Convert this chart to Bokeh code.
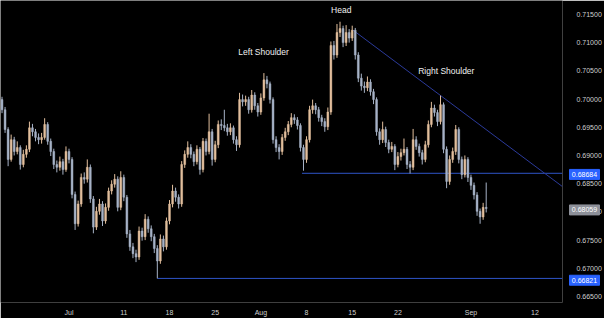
import numpy as np
from bokeh.plotting import figure
from bokeh.models import ColumnDataSource, Range1d, FixedTicker, NumeralTickFormatter, GridBox
from bokeh.core.properties import value
from bokeh.embed import file_html
from bokeh.resources import INLINE

# ---- data (AUDUSD, 8-hour candles) ----
first_open = 0.6999
close = [
    0.6981, 0.6946, 0.6893, 0.6928, 0.6907, 0.6914, 0.6884, 0.6902, 0.6911, 0.6949,
    0.6942, 0.6932, 0.6928, 0.6932, 0.6955, 0.6925, 0.6907, 0.6884, 0.6879, 0.6889,
    0.6875, 0.6907, 0.6893, 0.6831, 0.6779, 0.6814, 0.6861, 0.6858, 0.6879, 0.6823,
    0.6773, 0.6801, 0.6814, 0.6784, 0.6808, 0.6837, 0.6849, 0.6858, 0.6808, 0.6861,
    0.6826, 0.6761, 0.6738, 0.6726, 0.6720, 0.6766, 0.6756, 0.6787, 0.6770, 0.6756,
    0.6735, 0.6713, 0.6752, 0.6738, 0.6784, 0.6814, 0.6837, 0.6826, 0.6814, 0.6884,
    0.6902, 0.6914, 0.6902, 0.6889, 0.6911, 0.6875, 0.6925, 0.6907, 0.6942, 0.6893,
    0.6919, 0.6955, 0.6953, 0.6949, 0.6942, 0.6949, 0.6928, 0.6919, 0.6999, 0.6995,
    0.6999, 0.6981, 0.7007, 0.6988, 0.6977, 0.7002, 0.7034, 0.7027, 0.6999, 0.6928,
    0.6914, 0.6907, 0.6932, 0.6942, 0.6955, 0.6967, 0.6963, 0.6953, 0.6914, 0.6893,
    0.6928, 0.6981, 0.6988, 0.6981, 0.6967, 0.6960, 0.6951, 0.6977, 0.7095, 0.7078,
    0.7118, 0.7125, 0.7100, 0.7118, 0.7108, 0.7122, 0.7078, 0.7037, 0.7023, 0.7020,
    0.7030, 0.7013, 0.6999, 0.6942, 0.6928, 0.6946, 0.6923, 0.6911, 0.6916, 0.6884,
    0.6898, 0.6905, 0.6911, 0.6884, 0.6879, 0.6928, 0.6916, 0.6905, 0.6893, 0.6919,
    0.6955, 0.6984, 0.6976, 0.6960, 0.6990, 0.6911, 0.6854, 0.6893, 0.6907, 0.6946,
    0.6893, 0.6866, 0.6893, 0.6861, 0.6847, 0.6830, 0.6801, 0.6791, 0.6808, 0.68059,
]
high = [
    0.7004, 0.6986, 0.6950, 0.6937, 0.6933, 0.6925, 0.6918, 0.6910, 0.6918, 0.6960,
    0.6956, 0.6947, 0.6939, 0.6940, 0.6966, 0.6959, 0.6930, 0.6912, 0.6891, 0.6898,
    0.6894, 0.6916, 0.6912, 0.6897, 0.6836, 0.6820, 0.6868, 0.6870, 0.6893, 0.6884,
    0.6828, 0.6809, 0.6823, 0.6819, 0.6815, 0.6843, 0.6856, 0.6867, 0.6863, 0.6872,
    0.6866, 0.6830, 0.6768, 0.6745, 0.6733, 0.6774, 0.6772, 0.6796, 0.6792, 0.6776,
    0.6761, 0.6741, 0.6760, 0.6758, 0.6790, 0.6821, 0.6848, 0.6843, 0.6831, 0.6890,
    0.6909, 0.6925, 0.6920, 0.6907, 0.6918, 0.6915, 0.6931, 0.6930, 0.6974, 0.6947,
    0.6926, 0.6962, 0.6964, 0.6981, 0.6956, 0.6957, 0.6953, 0.6934, 0.7011, 0.7008,
    0.7006, 0.7004, 0.7016, 0.7012, 0.6993, 0.7010, 0.7046, 0.7041, 0.7031, 0.7003,
    0.6934, 0.6920, 0.6938, 0.6949, 0.6961, 0.6975, 0.6973, 0.6968, 0.6957, 0.6919,
    0.6934, 0.6988, 0.6999, 0.6993, 0.6986, 0.6972, 0.6966, 0.6985, 0.7102, 0.7103,
    0.7133, 0.7137, 0.7130, 0.7131, 0.7124, 0.7130, 0.7126, 0.7083, 0.7045, 0.7031,
    0.7040, 0.7035, 0.7018, 0.7003, 0.6948, 0.6960, 0.6951, 0.6928, 0.6924, 0.6920,
    0.6906, 0.6912, 0.6930, 0.6915, 0.6890, 0.6947, 0.6934, 0.6921, 0.6910, 0.6926,
    0.6962, 0.6995, 0.6990, 0.6981, 0.7006, 0.6994, 0.6916, 0.6900, 0.6914, 0.6954,
    0.6950, 0.6898, 0.6900, 0.6897, 0.6866, 0.6852, 0.6835, 0.6806, 0.6816, 0.6852,
]
low = [
    0.6975, 0.6940, 0.6881, 0.6889, 0.6900, 0.6902, 0.6875, 0.6879, 0.6896, 0.6906,
    0.6934, 0.6925, 0.6920, 0.6921, 0.6928, 0.6919, 0.6899, 0.6876, 0.6870, 0.6873,
    0.6866, 0.6871, 0.6886, 0.6824, 0.6768, 0.6774, 0.6809, 0.6850, 0.6852, 0.6816,
    0.6762, 0.6768, 0.6795, 0.6775, 0.6779, 0.6802, 0.6831, 0.6843, 0.6801, 0.6803,
    0.6819, 0.6754, 0.6731, 0.6718, 0.6711, 0.6715, 0.6749, 0.6750, 0.6763, 0.6748,
    0.6727, 0.66821, 0.6708, 0.6730, 0.6733, 0.6778, 0.6808, 0.6818, 0.6806, 0.6809,
    0.6878, 0.6896, 0.6895, 0.6881, 0.6884, 0.6866, 0.6870, 0.6900, 0.6902, 0.6882,
    0.6888, 0.6913, 0.6945, 0.6943, 0.6935, 0.6936, 0.6921, 0.6908, 0.6914, 0.6987,
    0.6988, 0.6974, 0.6976, 0.6981, 0.6969, 0.6972, 0.6997, 0.7019, 0.6992, 0.6921,
    0.6906, 0.6893, 0.6901, 0.6926, 0.6936, 0.6950, 0.6956, 0.6946, 0.6907, 0.6873,
    0.6887, 0.6923, 0.6974, 0.6973, 0.6960, 0.6952, 0.6942, 0.6945, 0.6972, 0.7070,
    0.7073, 0.7110, 0.7092, 0.7094, 0.7100, 0.7103, 0.7070, 0.7030, 0.7015, 0.7011,
    0.7014, 0.7006, 0.6991, 0.6935, 0.6919, 0.6922, 0.6915, 0.6904, 0.6906, 0.6874,
    0.6879, 0.6891, 0.6900, 0.6876, 0.6868, 0.6874, 0.6910, 0.6898, 0.6884, 0.6888,
    0.6914, 0.6950, 0.6969, 0.6952, 0.6955, 0.6904, 0.6842, 0.6848, 0.6887, 0.6901,
    0.6886, 0.6858, 0.6861, 0.6853, 0.6839, 0.6822, 0.6793, 0.6779, 0.6786, 0.6799,
]

# time axis: trading days counted from 1 Jul (weekends skipped)
tick_days = [0, 6, 11, 16, 21, 26, 31, 36, 44, 51]
tick_labels = ["Jul", "11", "18", "25", "Aug", "8", "15", "22", "Sep", "12"]
price_ticks = [0.665, 0.670, 0.675, 0.680, 0.685, 0.690, 0.695, 0.700, 0.705, 0.710, 0.715]

neckline = 0.68684
support = 0.66821
last_price = 0.68059
trend_days = [31.1, 54.0]
trend_prices = [0.7122, 0.6845]
neck_days = [25.5, 54.0]
support_days = [9.67, 54.0]

pattern_names = ["Head", "Left Shoulder", "Right Shoulder"]
pattern_days = [29.8, 21.3, 41.3]
pattern_prices = [0.7157, 0.7083, 0.7049]

tag_prices = [neckline, support, last_price]
tag_colors = ["#2962ff", "#2962ff", "#8d9099"]

# ---- build ----
W, H = 604, 318
BOTTOM, RIGHT = 14, 38
n = len(close)
bars_per_day = 3
start_day = -7.5
xs = start_day + (np.arange(n) + 0.5) / bars_per_day
opens = [first_open] + close[:-1]
BULL = "#e2bf9d"
BEAR = "#a7b3c7"
colors = [BULL if c >= o else BEAR for o, c in zip(opens, close)]
src = ColumnDataSource(dict(
    x=xs, open=opens, close=close, high=high, low=low,
    top=[max(o, c) for o, c in zip(opens, close)],
    bottom=[min(o, c) for o, c in zip(opens, close)],
    color=colors,
))

yr = Range1d(0.66394, 0.717465)
p = figure(width=W, height=H,
           x_range=Range1d(-7.5, 54.02), y_range=yr,
           output_backend="svg", toolbar_location=None, y_axis_location="right",
           background_fill_color="black", border_fill_color="black",
           min_border_left=0, min_border_top=0, min_border_right=RIGHT, min_border_bottom=BOTTOM)
p.outline_line_color = None
p.grid.visible = False
p.frame_align = False

# pattern lines
p.line(support_days, [support, support], line_color="#2f55c8", line_width=1)
p.line(neck_days, [neckline, neckline], line_color="#2f55c8", line_width=1)
p.line(trend_days, trend_prices, line_color="#2b3a9a", line_width=1)

# candles
p.segment(x0="x", y0="low", x1="x", y1="high", source=src, line_color="color", line_width=1)
p.vbar(x="x", width=0.2, top="top", bottom="bottom", source=src,
       fill_color="color", line_color="color", line_width=0.5)

# pattern labels
p.text(x=pattern_days, y=pattern_prices, text=pattern_names, text_color="#f0f0f0",
       text_font=value("Liberation Sans"), text_font_size="8.5px",
       text_align="center", text_baseline="middle")

# axes
ax = p.yaxis[0]
ax.ticker = FixedTicker(ticks=price_ticks)
ax.formatter = NumeralTickFormatter(format="0.00000")
ax.axis_line_color = None
ax.major_tick_line_color = None
ax.minor_tick_line_color = None
ax.major_label_standoff = 8
ax.major_label_text_color = "#cfcfcf"
ax.major_label_text_font = "Liberation Sans"
ax.major_label_text_font_size = "7px"

xa = p.xaxis[0]
xa.ticker = FixedTicker(ticks=tick_days)
xa.major_label_overrides = {d: t for d, t in zip(tick_days, tick_labels)}
xa.axis_line_color = None
xa.major_tick_line_color = None
xa.minor_tick_line_color = None
xa.major_label_standoff = 0
xa.major_label_text_color = "#cfcfcf"
xa.major_label_text_font = "Liberation Sans"
xa.major_label_text_font_size = "7px"

# transparent overlay over the price scale for the price tags (same y scale)
q = figure(width=W, height=H - BOTTOM, x_range=Range1d(0, W), y_range=yr,
           output_backend="svg", toolbar_location=None,
           x_axis_location=None, y_axis_location=None,
           background_fill_alpha=0, border_fill_alpha=0,
           min_border_left=0, min_border_top=0, min_border_right=0, min_border_bottom=0)
q.outline_line_color = None
q.grid.visible = False
q.frame_align = False
tag_src = ColumnDataSource(dict(
    y=tag_prices, color=tag_colors, label=[f"{v:.5f}" for v in tag_prices],
    x=[W - RIGHT + 18] * len(tag_prices),
))
q.rect(x="x", y="y", width=30, height=10, height_units="screen", source=tag_src,
       fill_color="color", line_color="color")
q.text(x="x", y="y", text="label", source=tag_src, text_color="white",
       text_font=value("Liberation Sans"), text_font_size="7px",
       text_align="center", text_baseline="middle")

layout = GridBox(children=[(p, 0, 0), (q, 0, 0)])
open("out.html", "w").write(file_html(layout, INLINE))
